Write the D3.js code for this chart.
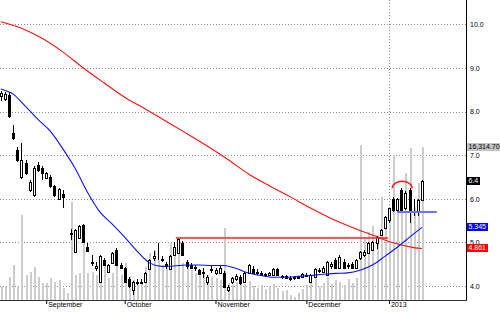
<!doctype html>
<html lang="en">
<head>
<meta charset="utf-8">
<script src="https://cdn.jsdelivr.net/npm/d3@7"></script>
<style>
    body { margin: 0; background: #fff; }
    svg { display: block; font-family: "Liberation Sans", Arial, sans-serif; }
</style>
</head>
<body>
<div id="chart"></div>
<script>
// daily bars, Aug 2012 - Jan 2013
var opens = [8.35, 8.30, 8.38, 7.51, 7.12, 6.50, 6.82, 6.20, 6.09, 6.78,
    6.71, 6.48, 6.50, 6.29, 6.00, 6.12, 5.41, 5.22, 4.78, 5.10,
    5.40, 4.89, 4.55, 4.42, 4.09, 4.60, 4.33, 4.53, 4.83, 4.48,
    4.41, 4.16, 3.91, 4.08, 4.10, 4.09, 4.39, 4.65, 4.70, 4.62,
    4.50, 4.39, 4.71, 4.76, 4.99, 4.55, 4.48, 4.41, 4.37, 4.30,
    4.09, 4.36, 4.30, 4.30, 4.30, 3.91, 4.09, 4.16, 4.21, 4.09,
    4.30, 4.39, 4.32, 4.30, 4.25, 4.25, 4.25, 4.39, 4.23, 4.23,
    4.16, 4.18, 4.18, 4.20, 4.25, 4.09, 4.21, 4.37, 4.33, 4.25,
    4.45, 4.60, 4.41, 4.55, 4.45, 4.50, 4.41, 4.64, 4.71, 4.76,
    4.83, 4.99, 5.17, 5.33, 5.51, 6.00, 5.74, 6.20, 5.79, 6.20,
    5.70, 5.70, 5.97];
var highs = [8.48, 8.46, 8.45, 7.69, 7.19, 7.28, 6.90, 6.42, 6.75, 6.85,
    6.75, 6.62, 6.55, 6.32, 6.25, 6.20, 5.41, 5.30, 5.30, 5.40,
    5.42, 4.99, 4.70, 4.55, 4.72, 4.65, 4.50, 4.78, 4.87, 4.52,
    4.43, 4.20, 4.12, 4.15, 4.16, 4.32, 4.62, 4.80, 4.99, 4.68,
    4.55, 4.70, 5.01, 5.10, 5.03, 4.60, 4.52, 4.48, 4.40, 4.42,
    4.25, 4.45, 4.42, 4.45, 4.35, 4.02, 4.20, 4.28, 4.25, 4.32,
    4.50, 4.45, 4.38, 4.35, 4.30, 4.33, 4.42, 4.42, 4.26, 4.25,
    4.22, 4.23, 4.24, 4.30, 4.30, 4.28, 4.42, 4.42, 4.45, 4.58,
    4.55, 4.65, 4.70, 4.62, 4.52, 4.55, 4.63, 4.80, 4.82, 5.01,
    5.03, 5.14, 5.30, 5.60, 5.80, 6.05, 6.02, 6.25, 6.18, 6.25,
    6.00, 5.99, 6.42];
var lows = [8.25, 8.25, 7.85, 7.35, 6.85, 6.45, 6.55, 6.15, 6.05, 6.62,
    6.43, 6.45, 6.25, 6.05, 5.98, 5.79, 5.40, 5.05, 4.75, 5.08,
    4.98, 4.78, 4.45, 4.35, 4.07, 4.46, 4.30, 4.50, 4.46, 4.38,
    4.07, 3.96, 3.79, 4.02, 4.05, 4.07, 4.37, 4.58, 4.60, 4.55,
    4.40, 4.37, 4.69, 4.74, 4.68, 4.40, 4.38, 4.35, 4.25, 4.18,
    4.02, 4.30, 4.25, 4.28, 3.95, 3.86, 4.05, 4.12, 4.02, 4.07,
    4.28, 4.28, 4.25, 4.22, 4.20, 4.22, 4.23, 4.22, 4.16, 4.15,
    4.12, 4.14, 4.15, 4.18, 4.20, 4.07, 4.19, 4.30, 4.30, 4.23,
    4.40, 4.38, 4.39, 4.38, 4.40, 4.38, 4.38, 4.60, 4.66, 4.74,
    4.80, 4.84, 5.15, 5.30, 5.45, 5.70, 5.70, 5.70, 5.75, 5.44,
    5.60, 5.61, 5.95];
var closes = [8.42, 8.40, 7.90, 7.39, 6.89, 6.89, 6.59, 6.39, 6.71, 6.66,
    6.59, 6.59, 6.29, 6.09, 6.22, 6.05, 5.40, 5.20, 5.28, 5.37,
    5.00, 4.80, 4.52, 4.45, 4.69, 4.48, 4.48, 4.76, 4.48, 4.41,
    4.09, 3.99, 4.09, 4.10, 4.08, 4.30, 4.60, 4.69, 4.72, 4.60,
    4.46, 4.69, 4.89, 5.08, 4.71, 4.46, 4.41, 4.44, 4.28, 4.33,
    4.21, 4.40, 4.37, 4.41, 3.98, 3.98, 4.18, 4.23, 4.07, 4.30,
    4.48, 4.30, 4.30, 4.25, 4.27, 4.30, 4.39, 4.25, 4.21, 4.18,
    4.18, 4.20, 4.21, 4.27, 4.23, 4.25, 4.39, 4.35, 4.42, 4.55,
    4.50, 4.41, 4.67, 4.41, 4.48, 4.41, 4.60, 4.78, 4.78, 4.99,
    5.01, 5.12, 5.28, 5.58, 5.79, 5.74, 6.00, 5.74, 6.13, 5.70,
    5.72, 5.97, 6.4];
var volumes = [1390, 1390, 2450, 3730, 1390, 9060, 2670, 2990, 3520, 2450,
    1810, 1810, 2350, 1920, 2130, 1280, 750, 10450, 2670, 2880,
    6610, 2880, 2990, 2670, 3200, 3730, 2350, 2880, 4050, 2670,
    3950, 2450, 2130, 1600, 1920, 3520, 5010, 5330, 4270, 3520,
    3730, 6080, 5550, 5120, 3950, 3520, 3200, 2880, 2990, 2990,
    2670, 2450, 2350, 2130, 7680, 1810, 1600, 1920, 2130, 1710,
    2030, 1490, 1280, 1600, 1170, 1390, 1710, 1280, 960, 1070,
    530, 320, 750, 1170, 1600, 2130, 2350, 1390, 1810, 2450,
    1710, 2130, 1920, 1600, 2240, 1810, 2350, 16530, 6610, 7250,
    7890, 6930, 10980, 8100, 8530, 15460, 9600, 10880, 13540, 16210,
    9920, 12480, 16314.70];

// moving averages (bar index, value)
var slowMaBars = [0, 5, 10, 15, 20, 25, 30, 35, 40, 45, 50, 55, 60, 65, 70, 75, 80, 85, 90, 95, 100, 102];
var slowMaValues = [10.06, 9.91, 9.68, 9.37, 9.00, 8.66, 8.33, 8.06, 7.78, 7.50, 7.21, 6.90, 6.57, 6.30, 6.05, 5.79, 5.55, 5.35, 5.17, 4.99, 4.88, 4.861];
var fastMaBars = [0, 3, 6, 9, 12, 15, 18, 21, 24, 27, 30, 33, 36, 39, 42, 45, 48, 51, 54, 57, 60, 63, 66, 69, 72, 75, 78, 81, 84, 87, 90, 93, 96, 99, 102];
var fastMaValues = [8.52, 8.40, 8.12, 7.82, 7.55, 7.15, 6.70, 6.15, 5.70, 5.42, 5.12, 4.80, 4.53, 4.45, 4.46, 4.48, 4.48, 4.47, 4.47, 4.40, 4.30, 4.24, 4.20, 4.20, 4.22, 4.24, 4.27, 4.29, 4.30, 4.36, 4.48, 4.68, 4.89, 5.12, 5.345];

var priceTicks = [4, 5, 6, 7, 8, 9, 10];
var monthLabels = ['September', 'October', 'November', 'December', '2013'];
var monthBars = [11, 30, 52, 74, 94];
var yearBar = 94;

// drawn annotations: [from bar, to bar, price]
var resistanceLine = [42.4, 93.8, 5.10];
var supportLine = [95.9, 105.6, 5.70];
var arcLine = [94.8, 99.6, 6.24, 6.41];

var width = 500, height = 312;
var plotRight = 466, plotBottom = 300;
var N = closes.length;

var svg = d3.select('#chart').append('svg')
    .attr('width', width)
    .attr('height', height);

var x = d3.scaleLinear().domain([0, N - 1]).range([0.74, 0.74 + (N - 1) * 4.13]);
var y = d3.scaleLinear().domain([4, 10]).range([286, 24.4]);
var yVol = d3.scaleLinear().domain([0, 32000]).range([plotBottom, 0]);

// dotted grid
svg.append('g').selectAll('line')
    .data(priceTicks)
    .join('line')
    .attr('x1', 0).attr('x2', plotRight)
    .attr('y1', d => Math.round(y(d)) + 0.5)
    .attr('y2', d => Math.round(y(d)) + 0.5)
    .attr('stroke', '#8c8c8c')
    .attr('stroke-dasharray', '1,2');

svg.append('line')
    .attr('x1', Math.round(x(yearBar)) + 0.5).attr('x2', Math.round(x(yearBar)) + 0.5)
    .attr('y1', 0).attr('y2', plotBottom)
    .attr('stroke', '#8c8c8c')
    .attr('stroke-dasharray', '1,2');

// volume
svg.append('g').selectAll('rect')
    .data(volumes)
    .join('rect')
    .attr('x', (d, i) => Math.round(x(i)))
    .attr('width', 2)
    .attr('y', d => yVol(d))
    .attr('height', d => plotBottom - yVol(d))
    .attr('fill', '#cdcdcd');

// candles
var bars = d3.range(N).map(i => ({ i: i, o: opens[i], h: highs[i], l: lows[i], c: closes[i] }));
var candle = svg.append('g').selectAll('g')
    .data(bars)
    .join('g');

candle.append('line')
    .attr('x1', d => Math.round(x(d.i)) + 0.5)
    .attr('x2', d => Math.round(x(d.i)) + 0.5)
    .attr('y1', d => Math.round(y(d.h)))
    .attr('y2', d => Math.round(y(d.l)))
    .attr('stroke', '#000');

candle.append('rect')
    .attr('x', d => Math.round(x(d.i)) - 0.5)
    .attr('width', 2)
    .attr('y', d => Math.round(y(Math.max(d.o, d.c))) + 0.5)
    .attr('height', d => Math.max(0, Math.round(y(Math.min(d.o, d.c))) - Math.round(y(Math.max(d.o, d.c)))))
    .attr('fill', d => d.c >= d.o ? '#fff' : '#000')
    .attr('stroke', '#000');

// moving averages
var maLine = d3.line()
    .x(d => x(d[0]))
    .y(d => y(d[1]))
    .curve(d3.curveMonotoneX);

svg.append('path')
    .datum(slowMaBars.map((b, k) => [b, slowMaValues[k]]))
    .attr('d', maLine)
    .attr('fill', 'none')
    .attr('stroke', '#ff1010')
    .attr('stroke-width', 1.1);

svg.append('path')
    .datum(fastMaBars.map((b, k) => [b, fastMaValues[k]]))
    .attr('d', maLine)
    .attr('fill', 'none')
    .attr('stroke', '#1010ff')
    .attr('stroke-width', 1.1);

// annotations
svg.append('line')
    .attr('x1', x(resistanceLine[0])).attr('x2', x(resistanceLine[1]))
    .attr('y1', y(resistanceLine[2])).attr('y2', y(resistanceLine[2]))
    .attr('stroke', '#ff2020')
    .attr('stroke-width', 1.5);

svg.append('line')
    .attr('x1', x(supportLine[0])).attr('x2', x(supportLine[1]))
    .attr('y1', y(supportLine[2])).attr('y2', y(supportLine[2]))
    .attr('stroke', '#6f6fff')
    .attr('stroke-width', 2);

var ax1 = x(arcLine[0]), ax2 = x(arcLine[1]);
var ay = y(arcLine[2]), atop = y(arcLine[3]);
var arc = d3.path();
arc.moveTo(ax1, ay);
arc.bezierCurveTo(ax1, atop - 2, ax2, atop - 2, ax2, ay);
svg.append('path')
    .attr('d', arc.toString())
    .attr('fill', 'none')
    .attr('stroke', '#ff1a1a')
    .attr('stroke-width', 1.5);

// axes frame
svg.append('line')
    .attr('x1', plotRight + 0.5).attr('x2', plotRight + 0.5)
    .attr('y1', 0).attr('y2', plotBottom + 1)
    .attr('stroke', '#000');
svg.append('line')
    .attr('x1', 0).attr('x2', plotRight + 1)
    .attr('y1', plotBottom + 0.5).attr('y2', plotBottom + 0.5)
    .attr('stroke', '#333');

// right price axis
var yAxis = svg.append('g')
    .attr('transform', `translate(${plotRight},0)`)
    .call(d3.axisRight(y).tickValues(priceTicks).tickFormat(d3.format('.1f')).tickSize(0).tickPadding(4));
yAxis.select('.domain').remove();
yAxis.selectAll('text')
    .attr('font-size', 7)
    .attr('font-family', '"Liberation Sans", Arial, sans-serif')
    .attr('fill', '#000');

// month axis
var xAxis = svg.append('g')
    .attr('transform', `translate(0,${plotBottom + 1})`)
    .call(d3.axisBottom(x).tickValues(monthBars).tickFormat((d, k) => monthLabels[k]).tickSize(3));
xAxis.select('.domain').remove();
xAxis.selectAll('.tick line').attr('stroke', '#000');
xAxis.selectAll('.tick text')
    .attr('text-anchor', 'start')
    .attr('x', 1.5)
    .attr('y', 1.5)
    .attr('font-size', 7)
    .attr('font-family', '"Liberation Sans", Arial, sans-serif')
    .attr('fill', '#000');

// last-value tags on the right axis
var tags = [
    { text: d3.format(',.2f')(volumes[N - 1]), yPos: yVol(volumes[N - 1]), bg: '#c4c4c4', fg: '#000' },
    { text: String(closes[N - 1]), yPos: y(closes[N - 1]), bg: '#000', fg: '#fff' },
    { text: String(fastMaValues[fastMaValues.length - 1]), yPos: y(fastMaValues[fastMaValues.length - 1]), bg: '#0000ff', fg: '#fff' },
    { text: String(slowMaValues[slowMaValues.length - 1]), yPos: y(slowMaValues[slowMaValues.length - 1]), bg: '#ff0000', fg: '#fff' }
];

var tag = svg.append('g').selectAll('g')
    .data(tags)
    .join('g')
    .attr('transform', d => `translate(${plotRight + 1},${Math.round(d.yPos)})`);

tag.append('rect')
    .attr('class', 'tagbg')
    .attr('x', 0).attr('y', -4)
    .attr('height', 8)
    .attr('fill', d => d.bg);

tag.append('text')
    .attr('x', 1.5)
    .attr('dy', '0.35em')
    .attr('font-size', 7)
    .attr('fill', d => d.fg)
    .text(d => d.text);

tag.each(function () {
    var g = d3.select(this);
    var w = g.select('text').node().getComputedTextLength();
    g.select('rect').attr('width', Math.ceil(w + 3));
});
</script>
</body>
</html>
